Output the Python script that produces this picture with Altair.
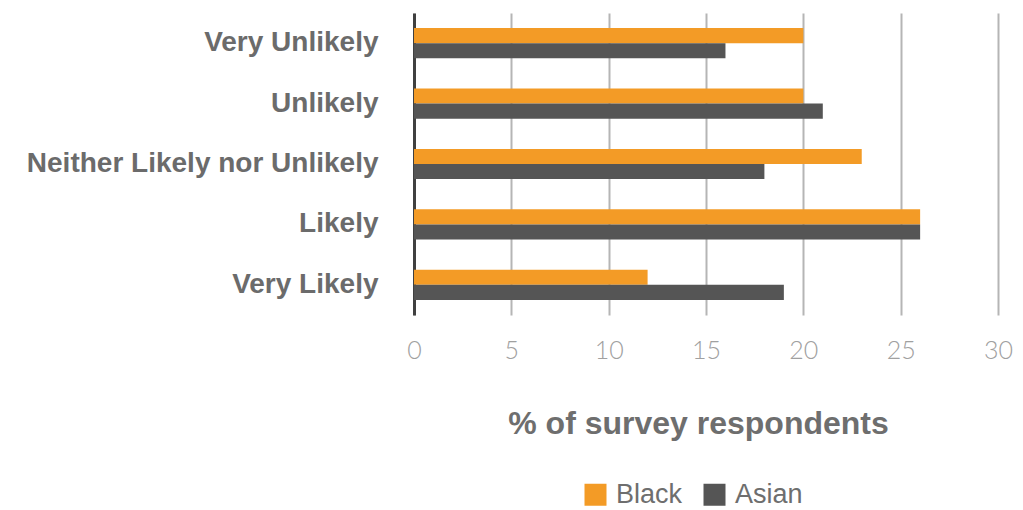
import altair as alt
import pandas as pd

categories = ["Very Unlikely", "Unlikely", "Neither Likely nor Unlikely", "Likely", "Very Likely"]
groups = ["Black", "Asian"]
black_values = [20, 20, 23, 26, 12]
asian_values = [16, 21, 18, 26, 19]
x_ticks = [0, 5, 10, 15, 20, 25, 30]

rows = []
for c, b, a in zip(categories, black_values, asian_values):
    rows.append({"response": c, "group": "Black", "value": b})
    rows.append({"response": c, "group": "Asian", "value": a})
df = pd.DataFrame(rows)

chart = alt.Chart(df).mark_bar().encode(
    x=alt.X(
        "value:Q",
        scale=alt.Scale(domain=[0, 30], nice=False),
        axis=alt.Axis(
            values=x_ticks,
            title="% of survey respondents",
            grid=True,
            gridColor="#b5b5b5",
            gridWidth=2,
            domain=False,
            ticks=False,
            labelFlush=False,
            labelFont="Lato",
            labelFontWeight=300,
            labelFontSize=25,
            labelColor="#a0a0a0",
            labelPadding=23,
            titleFont="Liberation Sans",
            titleFontWeight="bold",
            titleFontSize=32,
            titleColor="#6e6e6e",
            titlePadding=45,
            titleX=284,
            titleAlign="center",
        ),
    ),
    y=alt.Y(
        "response:N",
        sort=categories,
        scale=alt.Scale(paddingInner=0.5, paddingOuter=0.25),
        axis=alt.Axis(
            title=None,
            domain=True,
            domainColor="#404040",
            domainWidth=3,
            ticks=False,
            grid=False,
            labelFont="Liberation Sans",
            labelFontWeight="bold",
            labelFontSize=28,
            labelColor="#6b6b6b",
            labelPadding=36,
            labelLimit=500,
        ),
    ),
    yOffset=alt.YOffset("group:N", sort=groups),
    color=alt.Color(
        "group:N",
        sort=groups,
        scale=alt.Scale(domain=groups, range=["#F39B26", "#555555"]),
        legend=alt.Legend(
            title=None,
            orient="none",
            legendX=168,
            legendY=468,
            direction="horizontal",
            symbolType="square",
            symbolSize=484,
            symbolStrokeWidth=0,
            labelFont="Liberation Sans",
            labelFontSize=27,
            labelColor="#6e6e6e",
            columnPadding=18,
            labelOffset=7,
        ),
    ),
).properties(
    width=584,
    height=302,
    autosize=alt.AutoSizeParams(type="none"),
    padding={"left": 406, "top": 5, "right": 15, "bottom": 195},
).configure_view(stroke=None)

chart.save("out.html", embed_options={"renderer": "svg", "actions": False})
